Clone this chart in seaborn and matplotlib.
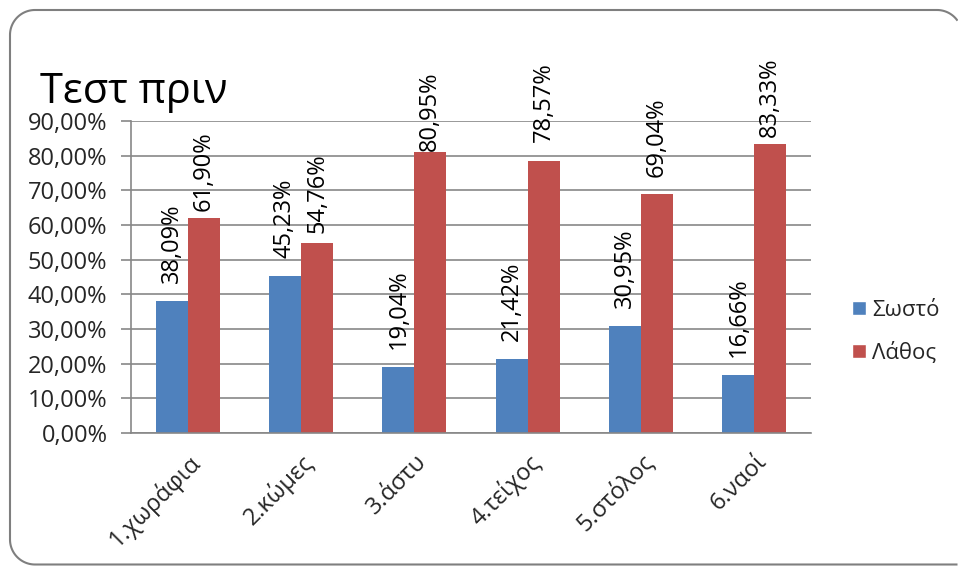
import matplotlib
matplotlib.use("Agg")
import matplotlib.pyplot as plt
from matplotlib.ticker import FuncFormatter, MultipleLocator
import seaborn as sns
import pandas as pd
import numpy as np

categories = ["1.χωράφια", "2.κώμες", "3.άστυ", "4.τείχος", "5.στόλος", "6.ναοί"]
correct = [38.09, 45.23, 19.04, 21.42, 30.95, 16.66]
wrong = [61.90, 54.76, 80.95, 78.57, 69.04, 83.33]
series = ["Σωστό", "Λάθος"]
colors = ["#4F81BD", "#C0504D"]

# distance (px) between each bar top and its value label
gap_correct = [18, 18, 18, 18, 18, 18]
gap_wrong = [7, 10, 1, 19, 17, 7]

df = pd.DataFrame({
    "cat": categories * 2,
    "val": correct + wrong,
    "series": [series[0]] * len(categories) + [series[1]] * len(categories),
})

sns.set_theme(style="white")
plt.rcParams["font.family"] = ["Open Sans", "Noto Sans", "DejaVu Sans"]

W, H = 958, 566
fig = plt.figure(figsize=(W / 100, H / 100), dpi=100)

# background layer in pixel units for the rounded chart border
bg = fig.add_axes([0, 0, 1, 1], zorder=-1)
bg.set_xlim(0, W)
bg.set_ylim(H, 0)
bg.axis("off")


def arc(cx, cy, r, a0, a1, n=30):
    t = np.radians(np.linspace(a0, a1, n))
    return cx + r * np.cos(t), cy + r * np.sin(t)


r = 25
left, top, bottom, right_c = 10, 10, 564.5, 962
x_edge = W - 0.5
a_start = -np.degrees(np.arccos((x_edge - (right_c - r)) / r))
xs, ys = [], []
ax_, ay_ = arc(right_c - r, top + r, r, a_start, -90)
xs += list(ax_); ys += list(ay_)
ax_, ay_ = arc(left + r, top + r, r, -90, -180)
xs += list(ax_); ys += list(ay_)
ax_, ay_ = arc(left + r, bottom - r, r, 180, 90)
xs += list(ax_); ys += list(ay_)
xs.append(x_edge); ys.append(bottom)
bg.plot(xs, ys, color="#7f7f7f", linewidth=1.5, solid_capstyle="butt")

ax = fig.add_axes([131 / W, 1 - 433 / H, (811 - 131) / W, (433 - 121) / H])
ax.patch.set_alpha(0)

sns.barplot(data=df, x="cat", y="val", hue="series", palette=colors,
            width=0.565, saturation=1, ax=ax, legend=True)

for cont, gaps in zip(ax.containers, [gap_correct, gap_wrong]):
    for p, v, g in zip(cont, cont.datavalues, gaps):
        p.set_edgecolor("none")
        ax.annotate(f"{v:.2f}%".replace(".", ","),
                    xy=(p.get_x() + p.get_width() / 2, p.get_height()),
                    xytext=(0, g), textcoords="offset pixels",
                    rotation=90, ha="center", va="bottom", fontsize=17,
                    color="black", annotation_clip=False)

ax.set_ylim(0, 90)
ax.set_xlim(-0.5, len(categories) - 0.5)
ax.yaxis.set_major_locator(MultipleLocator(10))
ax.yaxis.set_major_formatter(FuncFormatter(lambda v, _: f"{v:.2f}%".replace(".", ",")))
ax.set_xlabel("")
ax.set_ylabel("")

grid_c = "#878787"
ax.grid(axis="y", color=grid_c, linewidth=1.2)
ax.set_axisbelow(True)
for s in ["top", "right"]:
    ax.spines[s].set_visible(False)
for s in ["left", "bottom"]:
    ax.spines[s].set_color(grid_c)
    ax.spines[s].set_linewidth(1.2)

ax.set_xticks([i - 0.5 for i in range(len(categories) + 1)], minor=True)
ax.tick_params(axis="x", which="major", length=0, pad=12, labelsize=17)
ax.tick_params(axis="x", which="minor", length=8, width=1.2, color=grid_c, direction="out")
ax.tick_params(axis="y", length=7, width=1.2, color=grid_c, direction="out", labelsize=17, pad=10)
ax.yaxis.set_tick_params(left=True)
for lbl in ax.get_xticklabels():
    lbl.set_rotation(45)
    lbl.set_ha("right")
    lbl.set_va("top")
    lbl.set_rotation_mode("anchor")

handles, labels = ax.get_legend_handles_labels()
ax.legend(handles, labels, loc="center left", bbox_to_anchor=(852 / W, 1 - 332 / H),
          bbox_transform=fig.transFigure, frameon=False, fontsize=16,
          handlelength=0.62, handleheight=0.62, handletextpad=0.3, labelspacing=0.95,
          borderpad=0, borderaxespad=0)

fig.text(40 / W, 1 - 103 / H, "Τεστ πριν", fontsize=30, ha="left", va="baseline", color="black")

fig.savefig("out.png", dpi=100)
